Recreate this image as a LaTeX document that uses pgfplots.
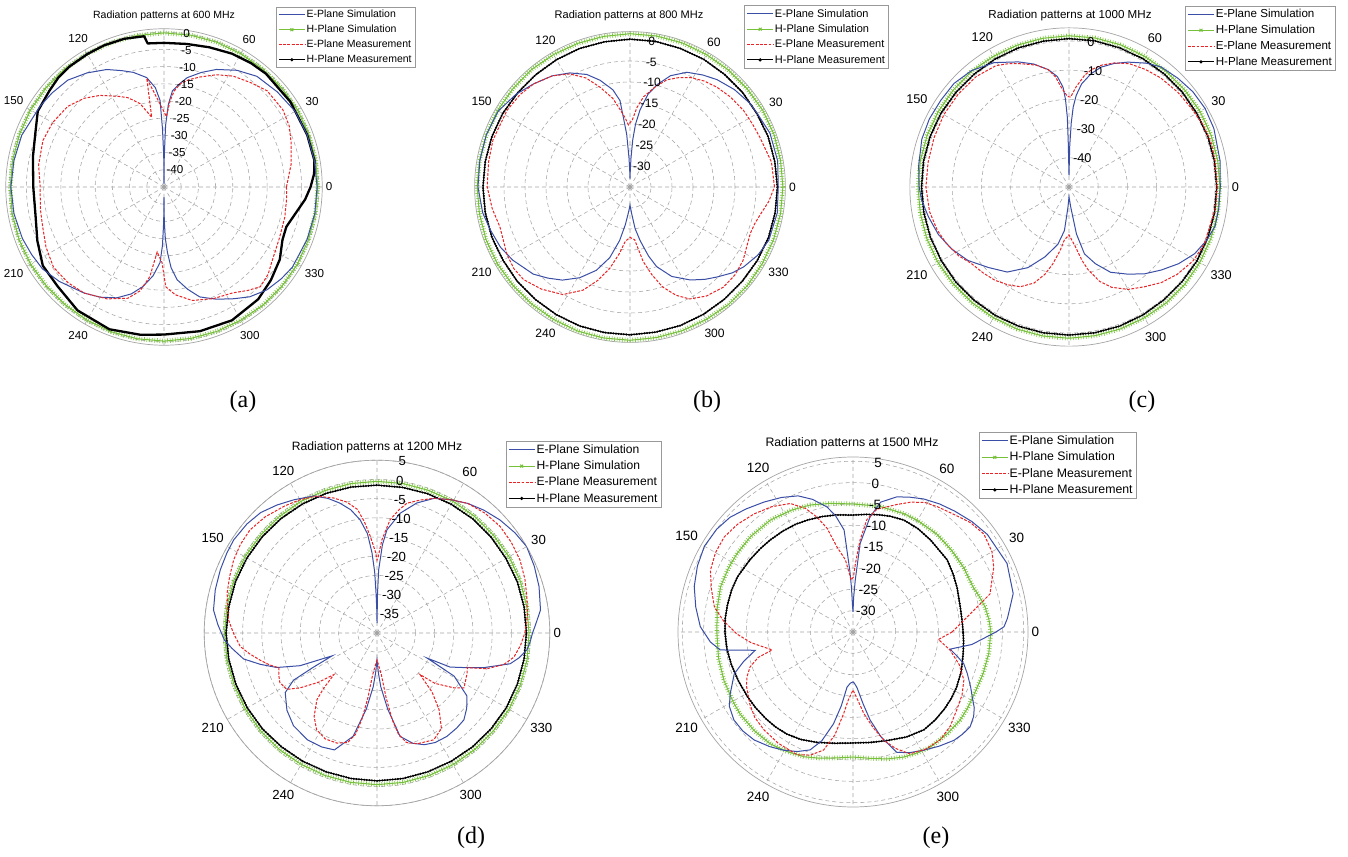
\documentclass[border=0pt]{standalone}
\usepackage{fontspec}
\setmainfont{Liberation Sans}
\newfontfamily\capfont{Liberation Serif}
\usepackage{pgfplots}
\usepackage{pgfplotstable}
\pgfplotsset{compat=1.18}
\usepgfplotslibrary{polar}

\definecolor{esim}{RGB}{58,78,165}
\definecolor{hsim}{RGB}{118,192,58}
\definecolor{emeas}{RGB}{232,36,38}
\definecolor{gridc}{RGB}{165,165,165}

\newcommand\fsa{\fontsize{10.5}{12.6}\selectfont}
\newcommand\fsb{\fontsize{11}{13.2}\selectfont}
\newcommand\fsc{\fontsize{11.6}{13.9}\selectfont}
\newcommand\fsd{\fontsize{12.1}{14.5}\selectfont}
\newcommand\fse{\fontsize{12.3}{14.8}\selectfont}
\newcommand\tla{\fontsize{11.6}{13.9}\selectfont}
\newcommand\tlb{\fontsize{12.1}{14.5}\selectfont}
\newcommand\tlc{\fontsize{12.7}{15.2}\selectfont}
\newcommand\tld{\fontsize{13.2}{15.8}\selectfont}
\newcommand\tle{\fontsize{13.5}{16.2}\selectfont}
\newcommand\fcap{\capfont\fontsize{24}{28}\selectfont}

\tikzset{rl/.style={anchor=west, inner sep=0.3pt}}

% H-plane tables (angle, dB)
\pgfplotstableread[row sep=\\]{
0 -0.3\\10 -0.2\\20 -0.2\\30 -0.2\\40 -0.3\\50 -0.3\\60 -0.3\\70 -0.2\\80 -0.2\\90 -0.2\\100 -0.3\\110 -0.3\\120 -0.3\\
130 -0.2\\140 -0.2\\150 -0.2\\160 -0.3\\170 -0.3\\180 -0.3\\190 -0.2\\200 -0.2\\210 -0.2\\220 -0.3\\230 -0.3\\240 -0.3\\
250 -0.2\\260 -0.2\\270 -0.2\\280 -0.3\\290 -0.3\\300 -0.3\\310 -0.2\\320 -0.2\\330 -0.2\\340 -0.3\\350 -0.3\\360 -0.3\\}\hsA
\pgfplotstableread[row sep=\\]{
0 1.4\\10 1.4\\20 1.5\\30 1.5\\40 1.4\\50 1.4\\60 1.4\\70 1.5\\80 1.5\\90 1.5\\100 1.4\\110 1.4\\120 1.4\\
130 1.5\\140 1.4\\150 1.4\\160 1.4\\170 1.4\\180 1.4\\190 1.4\\200 1.5\\210 1.5\\220 1.4\\230 1.4\\240 1.4\\
250 1.5\\260 1.5\\270 1.5\\280 1.4\\290 1.4\\300 1.4\\310 1.5\\320 1.5\\330 1.4\\340 1.4\\350 1.4\\360 1.4\\}\hsB
\pgfplotstableread[row sep=\\]{
0 0.1\\10 0.0\\20 0.0\\30 -0.1\\40 0.0\\50 0.0\\60 0.1\\70 0.1\\80 0.2\\90 0.2\\100 0.1\\110 0.1\\120 0.0\\
130 -0.1\\140 -0.1\\150 0.0\\160 0.0\\170 0.0\\180 0.0\\190 0.0\\200 0.0\\210 -0.1\\220 0.0\\230 0.0\\240 0.1\\
250 0.2\\260 0.2\\270 0.2\\280 0.1\\290 0.1\\300 0.0\\310 -0.1\\320 -0.1\\330 0.0\\340 0.1\\350 0.1\\360 0.1\\}\hmB
\pgfplotstableread[row sep=\\]{
0 1.7\\10 1.7\\20 1.8\\30 1.8\\40 1.7\\50 1.7\\60 1.7\\70 1.8\\80 1.8\\90 1.8\\100 1.7\\110 1.7\\120 1.7\\
130 1.8\\140 1.7\\150 1.7\\160 1.7\\170 1.7\\180 1.7\\190 1.7\\200 1.8\\210 1.8\\220 1.7\\230 1.7\\240 1.7\\
250 1.8\\260 1.8\\270 1.8\\280 1.7\\290 1.7\\300 1.7\\310 1.8\\320 1.8\\330 1.7\\340 1.7\\350 1.7\\360 1.7\\}\hsC
\pgfplotstableread[row sep=\\]{
0 0.6\\10 0.6\\20 0.6\\30 0.5\\40 0.6\\50 0.6\\60 0.7\\70 0.7\\80 0.8\\90 0.8\\100 0.7\\110 0.7\\120 0.6\\
130 0.5\\140 0.5\\150 0.6\\160 0.6\\170 0.6\\180 0.5\\190 0.5\\200 0.5\\210 0.5\\220 0.6\\230 0.6\\240 0.7\\
250 0.7\\260 0.7\\270 0.7\\280 0.7\\290 0.7\\300 0.6\\310 0.5\\320 0.5\\330 0.6\\340 0.6\\350 0.6\\360 0.6\\}\hmC
\pgfplotstableread[row sep=\\]{
0 -0.4\\10 -0.4\\20 -0.3\\30 -0.3\\40 -0.4\\50 -0.4\\60 -0.4\\70 -0.5\\80 -0.5\\90 -0.5\\100 -0.5\\110 -0.5\\120 -0.4\\
130 -0.4\\140 -0.4\\150 -0.3\\160 -0.3\\170 -0.3\\180 -0.3\\190 -0.3\\200 -0.4\\210 -0.4\\220 -0.4\\230 -0.4\\240 -0.5\\
250 -0.5\\260 -0.5\\270 -0.5\\280 -0.5\\290 -0.5\\300 -0.4\\310 -0.4\\320 -0.4\\330 -0.3\\340 -0.3\\350 -0.3\\360 -0.4\\}\hsD
\pgfplotstableread[row sep=\\]{
0 -1.1\\10 -1.1\\20 -1.1\\30 -1.2\\40 -1.2\\50 -1.2\\60 -1.3\\70 -1.4\\80 -1.5\\90 -1.5\\100 -1.4\\110 -1.3\\120 -1.2\\
130 -1.1\\140 -1.0\\150 -0.9\\160 -0.8\\170 -0.8\\180 -0.7\\190 -0.8\\200 -0.9\\210 -1.0\\220 -1.1\\230 -1.3\\240 -1.4\\
250 -1.5\\260 -1.5\\270 -1.5\\280 -1.5\\290 -1.5\\300 -1.4\\310 -1.3\\320 -1.2\\330 -1.1\\340 -1.1\\350 -1.1\\360 -1.1\\}\hmD
\pgfplotstableread[row sep=\\]{
0 -2.7\\5 -3.0\\10.7 -3.5\\16 -4.3\\21 -5.0\\30 -5.0\\40 -5.0\\49.4 -4.8\\60 -4.8\\66.6 -4.8\\78 -4.9\\90 -5.0\\100 -4.4\\
108.6 -3.6\\117 -3.0\\126.5 -2.4\\137 -2.2\\146 -2.2\\153 -2.2\\161 -2.2\\170 -2.7\\180 -3.1\\191 -2.9\\200.6 -2.7\\210 -2.5\\
216 -2.3\\225 -2.3\\233.5 -2.4\\241 -3.0\\248.6 -3.6\\255 -4.4\\262 -5.2\\270 -5.7\\278 -5.1\\285 -4.2\\292 -3.4\\298 -2.9\\
304 -2.5\\313 -2.5\\320.6 -2.5\\327 -2.8\\333 -3.1\\342 -3.0\\351 -2.8\\360 -2.7\\}\hsE
\pgfplotstableread[row sep=\\]{
0 -9.2\\6 -9.3\\13 -9.2\\23 -8.5\\30 -7.9\\37.5 -7.2\\50 -6.8\\58 -6.4\\65.5 -6.2\\72 -6.5\\78 -6.9\\84 -7.3\\90 -7.6\\
98 -7.3\\105 -7\\112 -6.7\\118 -6.4\\125 -6.2\\132 -6.0\\138 -5.8\\145 -5.5\\154.6 -5.0\\161 -4.9\\168 -4.9\\174 -4.9\\
180 -5.0\\188 -5.2\\195 -5.5\\203 -5.8\\211.5 -6.0\\218 -6.1\\225 -6.2\\231 -6.3\\237 -6.5\\244 -7.0\\252 -7.8\\261 -8.6\\
270 -9.0\\279 -8.8\\288 -8.3\\297 -7.4\\306 -6.7\\313 -6.8\\320 -7.0\\326 -7.2\\332 -7.5\\340 -8.0\\349 -8.7\\355 -9.0\\360 -9.2\\}\hmE

\pgfplotsset{
  pat/.style={
    scale only axis,
    clip mode=individual,
    xmin=0, xmax=360, ymin=0,
    xtick={0,30,...,330},
    xticklabels={0,30,60,,120,150,,210,240,,300,330},
    xmajorgrids, ymajorgrids,
    grid style={gridc, line width=0.55pt, dash pattern=on 4pt off 3pt},
    axis line style={gridc, line width=0.7pt},
    y axis line style={draw=none},
    yticklabels={},
    tick style={draw=none},
    xticklabel style={inner sep=3.5pt},
    legend cell align=left,
    legend image code/.code={\draw[mark repeat=2,mark phase=2,##1] plot coordinates {(0pt,0pt) (13pt,0pt) (26pt,0pt)};},
    legend style={anchor=north west, draw=gray!80, fill=white, line width=0.6pt, inner xsep=2pt, inner ysep=2pt, row sep=3.3pt, nodes={inner sep=1.3pt}},
  },
  es/.style={esim, line width=1pt},
  em/.style={emeas, line width=1pt, dash pattern=on 2.8pt off 1.5pt},
  hsl/.style={hsim, line width=1pt, line join=round},
  hsx/.style={hsim, line width=4.6pt, dash pattern=on 0.6pt off 2.0pt},
  hml/.style={black, line width=1pt, line join=round},
  hmd/.style={black, line width=2.3pt, line cap=round, dash pattern=on 0pt off 2.6pt},
}

\newcommand\legs{%
  \addlegendimage{esim, line width=1pt}\addlegendentry{E-Plane Simulation}
  \addlegendimage{hsim, line width=1pt, mark=x, mark size=2pt}\addlegendentry{H-Plane Simulation}
  \addlegendimage{emeas, line width=1pt, dash pattern=on 2.8pt off 1.5pt}\addlegendentry{E-Plane Measurement}
  \addlegendimage{black, line width=1pt, mark=*, mark size=1.1pt}\addlegendentry{H-Plane Measurement}}

\begin{document}
\begin{tikzpicture}
\path[use as bounding box, fill=white] (0,0) rectangle (1348pt,856pt);

% ---------------- (a) 600 MHz ----------------
\begin{polaraxis}[pat, width=316.5pt, height=316.5pt, ymax=46, ytick={5,10,...,45},
  at={(164pt,669pt)}, anchor=center, xticklabel style={font=\tla},
  legend style={at={(0.854,1.07)}, font=\fsa}]
\addplot[hsl, forget plot] table[y expr=\thisrowno{1}+45] {\hsA};
\addplot[hsx, forget plot] table[y expr=\thisrowno{1}+45] {\hsA};
\addplot[black, line width=2.3pt, line join=round, forget plot] table[row sep=\\, y expr=\thisrowno{1}+45] {
0 -2.4\\5 -1.2\\10 -0.6\\20 -0.7\\34 -0.7\\48 -0.7\\55 -1.0\\63 -1.5\\72 -2.3\\81 -2.9\\90 -3.1\\96.5 -3.0\\97.5 -0.8\\
105 -0.4\\113 -0.3\\120 -0.4\\128 -0.5\\134 -0.8\\140 -1.5\\149 -2.2\\157 -4.4\\167 -5.9\\180 -7\\193 -6.7\\203 -5\\
213 -3\\223 -2.7\\235 -1.2\\249 -0.7\\261 -1.5\\270 -2.1\\284 -1.8\\297 -1.5\\310 -2.4\\319 -3.8\\328 -5.3\\336 -7.3\\
342 -7.6\\349 -5.9\\355 -3.8\\360 -2.4\\};
\addplot[es, forget plot] table[row sep=\\, y expr=\thisrowno{1}+45] {
0 -0.5\\10 -0.6\\20 -0.7\\30 -1.0\\40 -2.0\\50 -3.0\\58 -5.0\\66 -7.6\\72 -10\\78 -12.5\\82 -15\\85 -17\\87 -21\\
88.5 -27\\89.5 -36\\90 -44\\90.5 -36\\91.5 -28\\92.6 -19.8\\95 -16\\99 -12.8\\105 -10.5\\110 -9\\116 -7\\124 -5\\
132 -3.2\\140 -2.5\\147 -2\\160 -1\\170 -0.7\\180 -0.5\\190 -0.7\\200 -1.2\\207 -1.8\\214 -2.4\\222 -4\\233 -6.4\\
240 -8\\247 -10\\253 -12.5\\258 -15.4\\263 -19\\267 -23\\268.5 -28\\269.5 -35\\270 -42\\270.5 -35\\271.5 -30\\
273 -26\\275 -21.5\\278 -17.8\\283 -14.5\\288 -11.4\\295 -9\\302 -6.7\\308 -4.5\\315 -2.7\\322 -1.7\\328 -1\\
340 -0.7\\350 -0.5\\360 -0.5\\};
\addplot[em, forget plot] table[row sep=\\, y expr=\thisrowno{1}+45] {
0 -9.4\\10 -7.5\\19 -5.9\\26 -4.5\\33 -3.8\\43 -4.0\\50 -5.5\\58 -7\\65 -9\\72 -11.4\\77 -13\\81 -14.6\\84 -17\\
86 -20\\88 -24.5\\99 -13\\100 -24.4\\106 -19.8\\112 -17\\117 -15.4\\125 -12.5\\132 -10.3\\140 -8.5\\150 -7.6\\
159 -7.3\\170 -8\\180 -9\\190 -8.5\\198 -7.9\\207 -6.5\\216 -5.3\\225 -5.6\\233 -6.4\\243 -8.5\\252 -11\\257 -14\\
261 -18.6\\264 -26\\268.5 -23\\271 -16\\276 -13.5\\284 -11\\294 -9.5\\303 -8.3\\309 -6.3\\314 -4.7\\320 -5.5\\
326 -7\\336 -8.3\\346 -8.8\\355 -9.2\\360 -9.4\\};
\node[rl,font=\tla] at (axis cs:83,5) {-40};
\node[rl,font=\tla] at (axis cs:83,10) {-35};
\node[rl,font=\tla] at (axis cs:83,15) {-30};
\node[rl,font=\tla] at (axis cs:83,20) {-25};
\node[rl,font=\tla] at (axis cs:83,25) {-20};
\node[rl,font=\tla] at (axis cs:83,30) {-15};
\node[rl,font=\tla] at (axis cs:83,35) {-10};
\node[rl,font=\tla] at (axis cs:83,40) {-5};
\node[rl,font=\tla] at (axis cs:83,45) {0};
\legs
\end{polaraxis}

% ---------------- (b) 800 MHz ----------------
\begin{polaraxis}[pat, width=310.8pt, height=310.8pt, ymax=37, ytick={5,10,...,35},
  at={(630pt,669pt)}, anchor=center, xticklabel style={font=\tlb},
  legend style={at={(0.868,1.084)}, font=\fsb}]
\addplot[hsl, forget plot] table[y expr=\thisrowno{1}+35] {\hsB};
\addplot[hsx, forget plot] table[y expr=\thisrowno{1}+35] {\hsB};
\addplot[hml, forget plot] table[y expr=\thisrowno{1}+35] {\hmB};
\addplot[hmd, forget plot] table[y expr=\thisrowno{1}+35] {\hmB};
\addplot[es, forget plot] table[row sep=\\, y expr=\thisrowno{1}+35] {
0 0.3\\10 0.7\\21 0.7\\30 0\\35 -0.2\\43 -1.0\\51 -2.1\\57 -3.2\\63.6 -4.5\\70 -6.8\\75 -9.7\\79 -12.5\\82.6 -16.5\\
85 -20\\86.7 -23.8\\88 -28\\89 -31\\90 -33\\91 -31\\92 -28\\93.6 -22.4\\96.6 -14.3\\100 -11.5\\105.7 -8.6\\111 -6.3\\
117.8 -4.3\\125 -2.7\\133 -1.4\\141 0\\150 1.2\\160 1.4\\170 1.3\\180 1.2\\190 0.6\\197 -0.2\\205 -1.0\\212 -2.1\\
222 -4\\228 -5.8\\234 -7.6\\241 -10.3\\248 -13.6\\254 -17.5\\259 -22\\263 -26\\266 -28.6\\268.5 -30\\270 -30.7\\
271.5 -30\\273.6 -28.6\\277 -25\\280.7 -22\\285 -18\\288.5 -15\\295 -11.5\\303 -8.6\\309 -6.7\\314 -5.2\\320 -3.2\\
325 -1.9\\332 -0.5\\339 0.4\\350 0.6\\360 0.3\\};
\addplot[em, forget plot] table[row sep=\\, y expr=\thisrowno{1}+35] {
0 -0.6\\10 -0.8\\21 -1.9\\27 -2.2\\34 -2.4\\42 -2.9\\49 -3.5\\55 -4.2\\61 -5.2\\66 -6.5\\71 -8\\76 -10.5\\81.5 -13.3\\
85 -16\\88 -19\\91.5 -20.2\\94 -18.5\\97 -16.6\\101 -13.5\\106.7 -10.2\\112 -7\\118 -4.5\\125 -2.7\\133 -1.4\\
140 -0.8\\148 -0.5\\161 -0.5\\170 -0.8\\180 -1.0\\189 -1.8\\197 -2.6\\208.6 -1.6\\215 -1.2\\221 -1.4\\229 -2.8\\
238 -4.8\\245.5 -8\\251 -11.5\\256 -15\\261 -19\\265 -22\\270 -23\\275 -22.4\\280 -17\\284 -13.5\\288 -10\\293 -7\\
298 -4.8\\305 -3.3\\313 -2.4\\320 -2.4\\327 -2.9\\333 -3.8\\339 -4.3\\344 -4.0\\348 -3.3\\354 -1.8\\360 -0.6\\};
\node[rl,font=\tlb] at (axis cs:83,5) {-30};
\node[rl,font=\tlb] at (axis cs:83,10) {-25};
\node[rl,font=\tlb] at (axis cs:83,15) {-20};
\node[rl,font=\tlb] at (axis cs:83,20) {-15};
\node[rl,font=\tlb] at (axis cs:83,25) {-10};
\node[rl,font=\tlb] at (axis cs:83,30) {-5};
\node[rl,font=\tlb] at (axis cs:83,35) {0};
\legs
\end{polaraxis}

% ---------------- (c) 1000 MHz ----------------
\begin{polaraxis}[pat, width=318.3pt, height=318.3pt, ymax=54.5, ytick={10,20,...,50},
  at={(1069pt,669pt)}, anchor=center, xticklabel style={font=\tlc},
  legend style={at={(0.865,1.069)}, font=\fsc}]
\addplot[hsl, forget plot] table[y expr=\thisrowno{1}+50] {\hsC};
\addplot[hsx, forget plot] table[y expr=\thisrowno{1}+50] {\hsC};
\addplot[hml, forget plot] table[y expr=\thisrowno{1}+50] {\hmC};
\addplot[hmd, forget plot] table[y expr=\thisrowno{1}+50] {\hmC};
\addplot[es, forget plot] table[row sep=\\, y expr=\thisrowno{1}+50] {
0 1.8\\10 2.5\\22 3.5\\30 3.8\\37.6 3.5\\45 2.7\\52.5 1.8\\58 0\\64.7 -2.7\\70 -5\\75 -7.5\\79 -10.5\\83 -14.4\\
85.5 -18.5\\87 -22.6\\88 -28\\89 -36\\89.6 -44\\90 -46\\90.4 -44\\91 -34\\91.4 -26\\92.3 -20\\93.4 -15.8\\96 -12\\
100 -9.2\\106 -6.2\\112 -3.8\\121 -0.3\\130 2\\138 3\\146 3\\154 3.2\\162 3\\172 2\\180 1.3\\185 0.7\\192 -0.8\\
200 -2.4\\208 -4.6\\216 -7.2\\225 -11\\234 -14\\243 -19\\251 -24.7\\259 -30\\264 -35\\267 -43\\270 -46.6\\275 -43\\
279 -33.7\\283 -26.5\\289 -22.2\\296 -17.5\\304 -14\\311 -10.6\\318 -7.5\\325 -4.2\\332 -1.3\\339 0.6\\345 1.8\\
352 1.8\\360 1.8\\};
\addplot[em, forget plot] table[row sep=\\, y expr=\thisrowno{1}+50] {
0 0.7\\10 0.8\\17 1.0\\25 0.6\\33 -0.2\\41 -0.6\\50 -1.2\\57 -2\\64 -3\\70 -4.8\\75 -6.8\\79 -9\\82 -11.3\\86 -15.7\\
89 -19.2\\91 -19\\94.5 -15.7\\97 -12\\100 -9.2\\105 -6.8\\111 -4.8\\116 -3\\121 -1.5\\130 -0.6\\140 -0.5\\150 -0.5\\
160 -0.8\\170 -1\\180 -1\\190 -1.5\\198 -2.5\\205 -3.8\\212 -5.5\\218 -7.5\\225 -8.4\\231.5 -9.2\\238 -10.5\\244 -12\\
250 -15\\254.6 -19\\258 -23\\262 -28\\265 -31.8\\270 -33.6\\276 -29.5\\280 -24.5\\283 -20.9\\288 -16\\293 -12.7\\
300 -9.5\\307 -7.2\\314 -4.5\\321 -2.4\\329 -0.6\\337 0.3\\352 0.7\\360 0.7\\};
\node[rl,font=\tlc] at (axis cs:83,10) {-40};
\node[rl,font=\tlc] at (axis cs:83,20) {-30};
\node[rl,font=\tlc] at (axis cs:83,30) {-20};
\node[rl,font=\tlc] at (axis cs:83,40) {-10};
\node[rl,font=\tlc] at (axis cs:83,50) {0};
\legs
\end{polaraxis}

% ---------------- (d) 1200 MHz ----------------
\begin{polaraxis}[pat, width=345.6pt, height=345.6pt, ymax=45, ytick={5,10,...,45},
  at={(377pt,223pt)}, anchor=center, xticklabel style={font=\tld},
  legend style={at={(0.873,1.055)}, font=\fsd}]
\addplot[hsl, forget plot] table[y expr=\thisrowno{1}+40] {\hsD};
\addplot[hsx, forget plot] table[y expr=\thisrowno{1}+40] {\hsD};
\addplot[hml, forget plot] table[y expr=\thisrowno{1}+40] {\hmD};
\addplot[hmd, forget plot] table[y expr=\thisrowno{1}+40] {\hmD};
\addplot[es, forget plot] table[row sep=\\, y expr=\thisrowno{1}+40] {
0 0.5\\2.5 1.2\\8 3.0\\16 3.9\\23 4.5\\30 5.0\\36 4.4\\42.6 3.5\\49 2.4\\55 1.2\\61 -0.3\\67 -1.9\\73 -4.6\\79 -8.2\\
84.5 -13\\86.5 -17\\88.5 -23.6\\89.3 -30\\89.8 -37.4\\90.5 -34\\91.3 -30\\92.2 -24\\93.6 -19\\95.5 -14\\98.5 -10.2\\
102 -7.2\\106 -4.8\\110 -2.7\\114.7 -0.7\\122 0.9\\128 2.3\\134 3.6\\140 4.2\\147 4.5\\152 4.3\\158 4.0\\165 3.6\\
172 3.0\\177 1.5\\182.6 -0.2\\186 -2\\191 -4.6\\195 -8.5\\199 -12.4\\203 -18.2\\207 -26.9\\208.3 -21\\209.5 -15\\
213 -11.5\\220.6 -9.1\\228 -7.5\\237 -6.8\\244 -7\\250 -7.6\\257 -12.4\\262 -20\\266 -26\\268 -29.6\\270 -33\\
272 -29.6\\274 -26\\278 -20\\282.6 -12.4\\288 -9.8\\293 -8.4\\298 -7.7\\304 -7.5\\310 -7.7\\315 -8\\320 -9.5\\
325 -11.4\\330.8 -17\\333.4 -25.4\\335 -19\\339 -14.8\\342 -10.8\\347 -4.4\\350 -2.5\\353.6 -0.7\\357 0\\360 0.5\\};
\addplot[em, forget plot] table[row sep=\\, y expr=\thisrowno{1}+40] {
0 -1.5\\7 -0.5\\14 0.2\\20 1.0\\27 1.8\\34 2.2\\41 2.4\\48 2.0\\55 1.2\\61 -0.3\\67 -1.9\\72 -3.6\\77 -5.3\\80 -7.5\\
83.4 -10.3\\87 -15.7\\89 -20\\90 -21\\91 -19\\94 -14.7\\96.5 -10.8\\99 -7.4\\103 -5\\108 -3\\114 -1\\120 0.1\\
126 0.9\\134 2.0\\141 2.6\\147 2.4\\153 1.9\\159 1.1\\165 0.4\\170 -0.5\\175 -1.2\\180 -2.6\\185.6 -4.2\\189 -6.2\\
193 -8.7\\196.5 -10.8\\199.6 -12.9\\203 -12.2\\207 -11.6\\212 -12.3\\215.5 -15.4\\220 -20\\224 -24.4\\226 -20\\
228 -16.6\\233 -12.8\\238 -10.3\\244 -9.3\\250 -9.5\\255 -10.5\\258 -13\\260 -17\\262 -23\\264 -29\\267 -31.5\\
270 -33\\273 -31.5\\276 -29\\278 -23\\280 -17\\282 -13\\285 -10.5\\290 -9.3\\298 -8.5\\304 -10\\309 -14.3\\313 -19\\
316 -24.4\\319 -20\\324.5 -15.4\\327.7 -13.2\\336 -14.3\\339 -14.8\\342 -9.9\\346 -6\\350 -3.8\\355 -2.5\\360 -1.5\\};
\node[rl,font=\tld] at (axis cs:83,5) {-35};
\node[rl,font=\tld] at (axis cs:83,10) {-30};
\node[rl,font=\tld] at (axis cs:83,15) {-25};
\node[rl,font=\tld] at (axis cs:83,20) {-20};
\node[rl,font=\tld] at (axis cs:83,25) {-15};
\node[rl,font=\tld] at (axis cs:83,30) {-10};
\node[rl,font=\tld] at (axis cs:83,35) {-5};
\node[rl,font=\tld] at (axis cs:83,40) {0};
\node[rl,font=\tld] at (axis cs:83,45) {5};
\legs
\end{polaraxis}

% ---------------- (e) 1500 MHz ----------------
\begin{polaraxis}[pat, width=350pt, height=350pt, ymax=41, ytick={5,10,...,40},
  at={(853pt,224pt)}, anchor=center, xticklabel style={font=\tle},
  legend style={at={(0.86,1.071)}, font=\fse}]
\addplot[hsl, forget plot] table[y expr=\thisrowno{1}+35] {\hsE};
\addplot[hsx, forget plot] table[y expr=\thisrowno{1}+35] {\hsE};
\addplot[hml, forget plot] table[y expr=\thisrowno{1}+35] {\hmE};
\addplot[hmd, forget plot] table[y expr=\thisrowno{1}+35] {\hmE};
\addplot[es, forget plot] table[row sep=\\, y expr=\thisrowno{1}+35] {
0 -1.5\\2 0.4\\5 1.3\\8 2.0\\13.5 3.6\\24 4.5\\36 3.9\\43 3.0\\50 2.0\\56 1.2\\62 0.3\\67 -0.7\\72 -1.7\\78 -3.9\\
81.6 -7.8\\85.4 -14.2\\87.5 -22.8\\89 -27\\90 -30.3\\91 -29\\92 -24.5\\93 -20.5\\95 -11\\98.5 -7.5\\101.7 -5.1\\
107 -2.5\\112 -0.6\\118 0.7\\124.4 1.9\\131 3.2\\137 4.4\\143 5.0\\150 5.2\\157 4.6\\164 3.7\\171 2.3\\178 0.8\\
184 -1.5\\187.7 -3.6\\190.6 -11.7\\195 -8.5\\199.4 -5.5\\206.7 -2.8\\211 -1.2\\216.5 -0.3\\222 -0.3\\227.5 -0.7\\
234 -1.8\\239.7 -2.9\\245 -4.1\\250 -5.6\\254 -8.5\\258 -13\\261 -17.5\\263.8 -22\\267 -23\\270 -23.3\\271.5 -23\\
274 -22\\278 -18\\281 -14\\285 -9.5\\290 -5\\295 -3.8\\301 -2.7\\307 -1.5\\313 -0.3\\317 0.1\\321 0.3\\325 -0.5\\
328 -1.5\\331 -3\\335 -4.6\\340 -6.5\\344 -8\\347 -10\\350 -11.9\\354 -7\\358 -3.6\\360 -1.5\\};
\addplot[em, forget plot] table[row sep=\\, y expr=\thisrowno{1}+35] {
0 -11.8\\6 -8.9\\15.5 -1.7\\24.7 1.3\\30 2.6\\36.8 3.3\\43 2.6\\50 1.2\\56 0.4\\61 -0.3\\66 -1.7\\71 -3.4\\79 -5.7\\
83 -8.5\\85.6 -13.4\\88 -19\\89.5 -22.1\\92 -22.8\\96 -18\\100.7 -14.7\\104 -10\\107.4 -6.8\\111 -4\\116 -1.5\\
123 0\\130 1.1\\137 2.0\\143.6 2.5\\150 2.2\\156.6 1.4\\163 -0.3\\169.8 -2.0\\175 -4.5\\181 -7.8\\186 -11\\
192.5 -15.6\\195 -12\\198.8 -9.5\\203 -8\\207 -7\\215 -5.5\\221 -4.5\\227.8 -4.0\\236 -3.6\\245.5 -3.4\\251 -4.5\\
256 -6.5\\260 -10.5\\263.5 -15.8\\266 -19\\270 -21.4\\274 -19\\277.6 -15.7\\282 -12\\286 -8.6\\290 -6\\295 -3.5\\
302 -2.7\\309 -2.5\\316 -3.3\\323 -4.6\\330 -5.5\\336.6 -6.7\\343 -9\\349.5 -11.9\\355 -14.9\\360 -11.8\\};
\node[rl,font=\tle] at (axis cs:83,5) {-30};
\node[rl,font=\tle] at (axis cs:83,10) {-25};
\node[rl,font=\tle] at (axis cs:83,15) {-20};
\node[rl,font=\tle] at (axis cs:83,20) {-15};
\node[rl,font=\tle] at (axis cs:83,25) {-10};
\node[rl,font=\tle] at (axis cs:83,30) {-5};
\node[rl,font=\tle] at (axis cs:83,35) {0};
\node[rl,font=\tle] at (axis cs:83,40) {5};
\legs
\end{polaraxis}

% titles and captions
\node[font=\fsa] at (164pt,840pt) {Radiation patterns at 600 MHz};
\node[font=\fsb] at (629pt,840pt) {Radiation patterns at 800 MHz};
\node[font=\fsc] at (1070pt,840pt) {Radiation patterns at 1000 MHz};
\node[font=\fsd] at (377pt,409pt) {Radiation patterns at 1200 MHz};
\node[font=\fse] at (852pt,413pt) {Radiation patterns at 1500 MHz};
\node[font=\fcap] at (243pt,454pt) {(a)};
\node[font=\fcap] at (707pt,454pt) {(b)};
\node[font=\fcap] at (1142pt,454pt) {(c)};
\node[font=\fcap] at (471pt,18pt) {(d)};
\node[font=\fcap] at (936pt,18pt) {(e)};
\end{tikzpicture}
\end{document}
